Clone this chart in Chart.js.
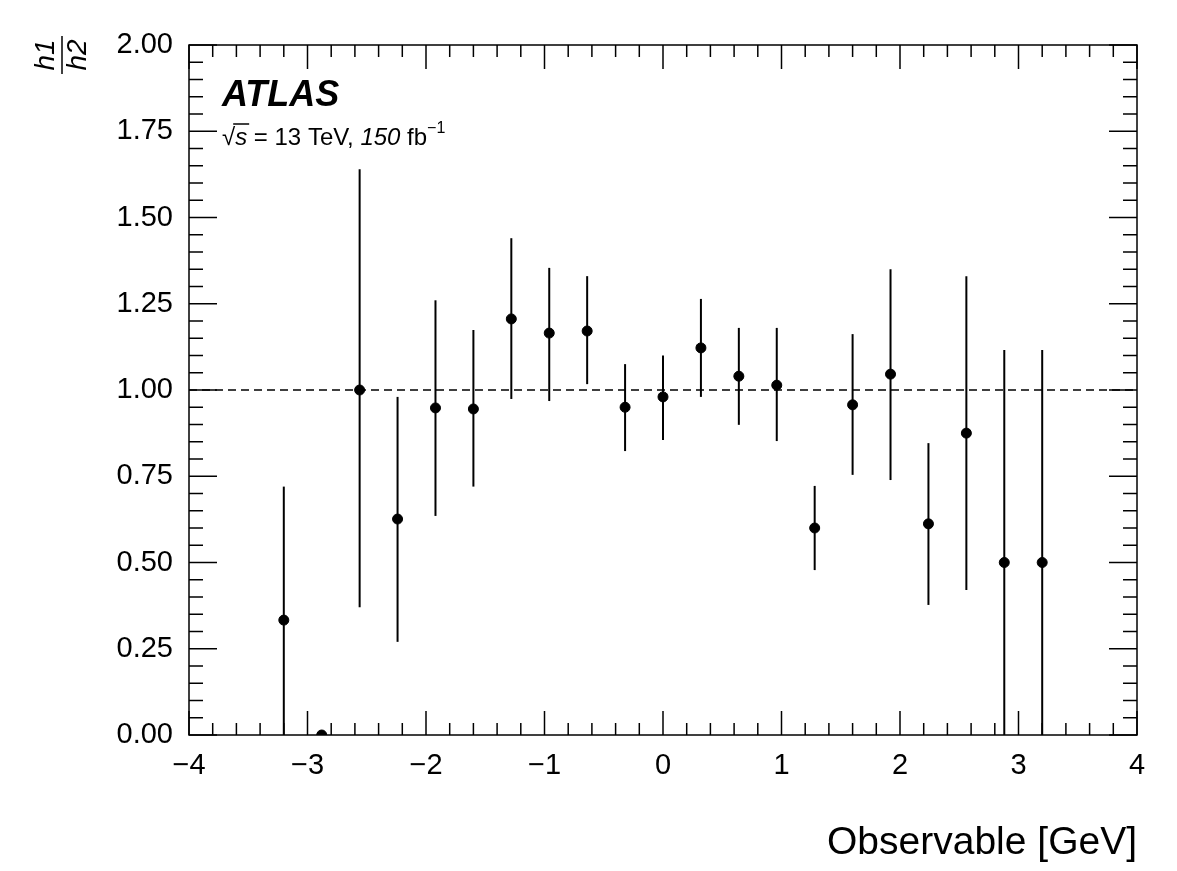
<!DOCTYPE html>
<html><head>
<script src="https://cdn.jsdelivr.net/npm/chart.js@4"></script>
<style>body{margin:0;background:#fff}#c{display:block}</style>
</head><body>
<div style="width:1177px;height:871px"><canvas id="c"></canvas></div>
<script>
const binCenters = [-3.2,-2.88,-2.56,-2.24,-1.92,-1.6,-1.28,-0.96,-0.64,-0.32,0,0.32,0.64,0.96,1.28,1.6,1.92,2.24,2.56,2.88,3.2]
const ratio = [0.333,0,1.0,0.626,0.948,0.945,1.206,1.165,1.171,0.95,0.98,1.122,1.04,1.014,0.60,0.957,1.046,0.612,0.875,0.50,0.50]
const errUp = [0.72,0,1.64,0.98,1.26,1.174,1.44,1.354,1.33,1.075,1.10,1.264,1.18,1.18,0.722,1.162,1.35,0.846,1.33,1.116,1.116]
const errDown = [0,0,0.37,0.27,0.635,0.72,0.974,0.968,1.017,0.823,0.855,0.98,0.899,0.852,0.478,0.754,0.739,0.377,0.42,0,0]
const font = 'Liberation Sans, Arial, sans-serif'

const rootStyle = {
    id: 'rootStyle',
    beforeDatasetsDraw(chart) {
        const {ctx, chartArea: a, scales: {x, y}} = chart
        ctx.save()
        ctx.strokeStyle = '#000'
        ctx.lineWidth = 1.5
        for (let i = 0; i <= 40; i++) {
            const px = x.getPixelForValue(-4 + i * 0.2)
            const len = i % 5 === 0 ? 24 : 12
            ctx.beginPath(); ctx.moveTo(px, a.bottom); ctx.lineTo(px, a.bottom - len); ctx.stroke()
            ctx.beginPath(); ctx.moveTo(px, a.top); ctx.lineTo(px, a.top + len); ctx.stroke()
        }
        for (let i = 0; i <= 40; i++) {
            const py = y.getPixelForValue(i * 0.05)
            const len = i % 5 === 0 ? 28 : 14
            ctx.beginPath(); ctx.moveTo(a.left, py); ctx.lineTo(a.left + len, py); ctx.stroke()
            ctx.beginPath(); ctx.moveTo(a.right, py); ctx.lineTo(a.right - len, py); ctx.stroke()
        }
        ctx.strokeRect(a.left, a.top, a.right - a.left, a.bottom - a.top)
        ctx.setLineDash([8, 5])
        const p1 = y.getPixelForValue(1)
        ctx.beginPath(); ctx.moveTo(a.left, p1); ctx.lineTo(a.right, p1); ctx.stroke()
        ctx.setLineDash([])
        ctx.lineWidth = 2
        binCenters.forEach((c, i) => {
            const px = x.getPixelForValue(c)
            ctx.beginPath()
            ctx.moveTo(px, y.getPixelForValue(errUp[i]))
            ctx.lineTo(px, y.getPixelForValue(errDown[i]))
            ctx.stroke()
        })
        ctx.restore()
    },
    afterDraw(chart) {
        const {ctx} = chart
        ctx.save()
        ctx.fillStyle = '#000'
        ctx.font = 'italic bold 36px ' + font
        ctx.fillText('ATLAS', 222, 106)
        // sqrt(s) = 13 TeV, 150 fb^-1
        let xp = 222
        const put = (txt, f, dy = 0) => {
            ctx.font = f
            ctx.fillText(txt, xp, 145 + dy)
            xp += ctx.measureText(txt).width
        }
        put('\u221A', '24px ' + font)
        ctx.beginPath(); ctx.moveTo(xp - 2, 124); ctx.lineTo(xp + 14, 124); ctx.lineWidth = 1.5; ctx.stroke()
        put('s ', 'italic 24px ' + font)
        put('= 13 TeV, ', '24px ' + font)
        put('150 ', 'italic 24px ' + font)
        put('fb', '24px ' + font)
        put('\u22121', '16px ' + font, -12)
        // y title as fraction
        ctx.translate(62, 55)
        ctx.rotate(-Math.PI / 2)
        ctx.font = 'italic 28px ' + font
        ctx.textAlign = 'center'
        ctx.fillText('h1', 0, -8)
        ctx.fillText('h2', 0, 24)
        ctx.beginPath(); ctx.moveTo(-19, 0); ctx.lineTo(19, 0); ctx.lineWidth = 1.5; ctx.stroke()
        ctx.restore()
    },
}

new Chart(document.getElementById('c'), {
    type: 'scatter',
    data: {
        datasets: [{
            data: binCenters.map((c, i) => ({x: c, y: ratio[i]})),
            backgroundColor: '#000',
            borderColor: '#000',
            pointRadius: 5,
        }],
    },
    options: {
        responsive: true,
        maintainAspectRatio: false,
        animation: false,
        layout: {padding: {left: 0, right: 40, top: 45, bottom: 0}},
        plugins: {legend: {display: false}, tooltip: {enabled: false}},
        scales: {
            x: {
                min: -4, max: 4,
                grid: {display: false}, border: {display: false},
                afterFit: (s) => { s.height = 136 },
                ticks: {stepSize: 1, color: '#000', font: {family: font, size: 29}, padding: 6,
                    callback: (v) => String(v).replace('-', '\u2212')},
                title: {display: true, text: 'Observable [GeV]', align: 'end', color: '#000',
                    font: {family: font, size: 39}, padding: {top: 16}},
            },
            y: {
                min: 0, max: 2,
                grid: {display: false}, border: {display: false},
                afterFit: (s) => { s.width = 189 },
                ticks: {stepSize: 0.25, color: '#000', font: {family: font, size: 29}, padding: 8,
                    callback: (v) => v.toFixed(2)},
            },
        },
    },
    plugins: [rootStyle],
})
</script>
</body></html>
